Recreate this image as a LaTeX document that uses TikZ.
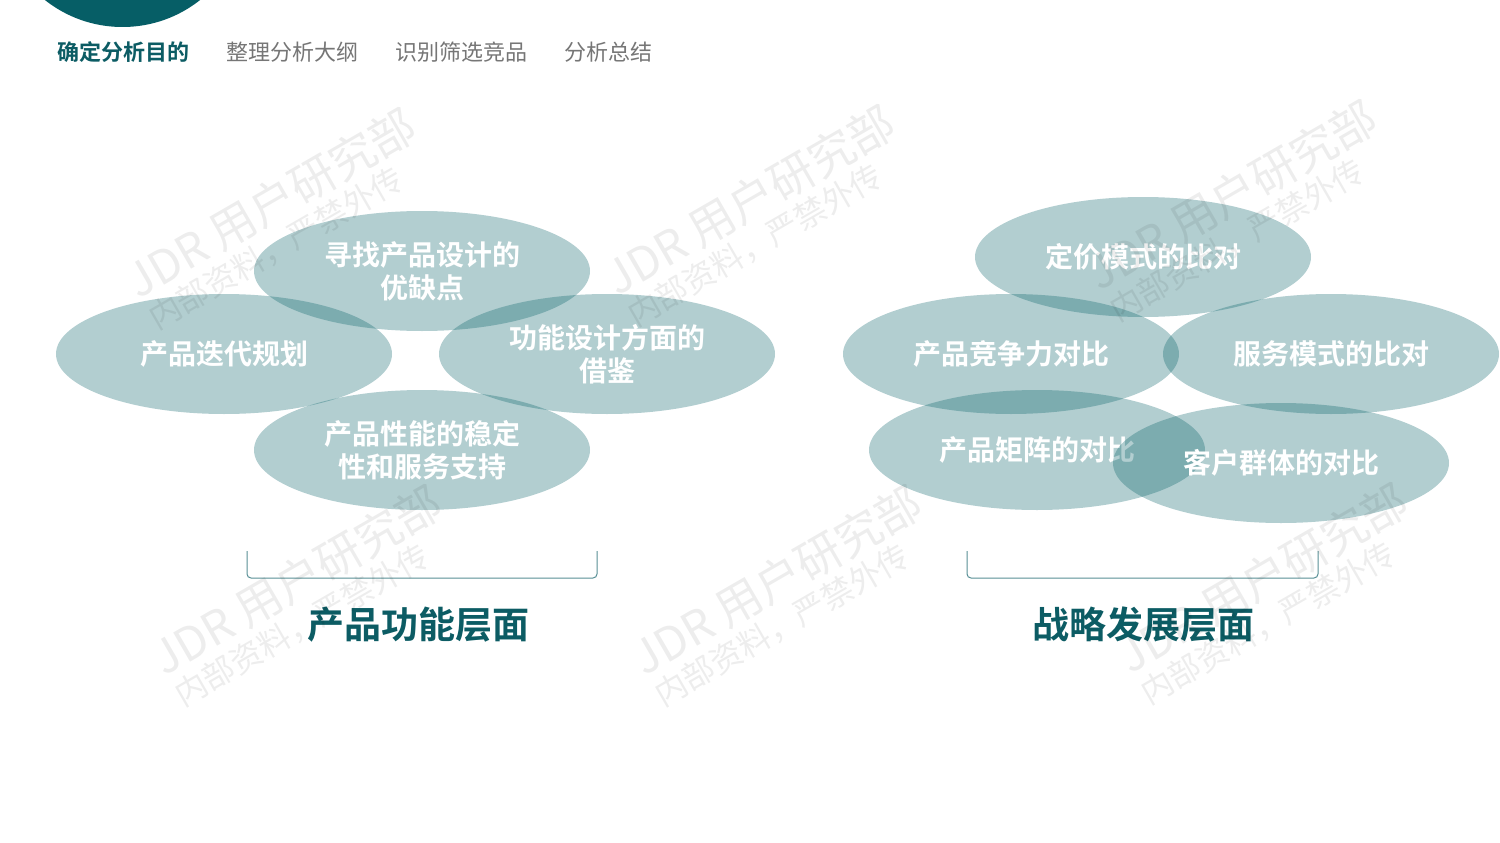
\documentclass[tikz,border=0pt]{standalone}
\usepackage{fontspec}
\setmainfont{Noto Sans CJK SC}[BoldFont={Noto Sans CJK SC Bold}]
\usetikzlibrary{shapes.geometric}
\definecolor{tealbase}{RGB}{2,95,102}
\definecolor{headteal}{RGB}{6,94,102}
\definecolor{titleteal}{RGB}{12,92,100}
\definecolor{navgray}{RGB}{118,118,118}
\definecolor{brackc}{RGB}{88,144,150}
\tikzset{
  bub/.style={ellipse, minimum width=336pt, minimum height=120pt, inner sep=0pt,
    fill=tealbase, fill opacity=0.3, text opacity=1, text=white,
    font=\bfseries\fontsize{28}{33}\selectfont, align=center},
  navon/.style={anchor=west, inner sep=0pt, text=titleteal, font=\bfseries\fontsize{22}{22}\selectfont},
  navoff/.style={anchor=west, inner sep=0pt, text=navgray, font=\fontsize{22}{22}\selectfont},
  layer/.style={inner sep=0pt, text=titleteal, font=\bfseries\fontsize{37}{37}\selectfont},
  brack/.style={draw=brackc, line width=1pt, rounded corners=4pt},
  wmA/.style={inner sep=0pt, rotate=30, text=black, text opacity=0.07, font=\fontsize{46}{46}\selectfont},
  wmB/.style={inner sep=0pt, rotate=30, text=black, text opacity=0.07, font=\fontsize{32}{32}\selectfont},
}
\newcommand\wmark[3]{%
  \node[wmA] (#1a) at (#2,#3) {JDR 用户研究部};
  \node[wmB] (#1b) at (#2+5,#3+45) {内部资料，严禁外传};}
\begin{document}
\begin{tikzpicture}[x=1pt,y=-1pt]
\useasboundingbox (0,0) rectangle (1500,843);
\fill[white] (0,0) rectangle (1500,843);
% header circle
\begin{scope}
\clip (0,0) rectangle (1500,843);
\fill[headteal] (122.5,-98) circle (125pt);
\end{scope}
% navigation
\node[navon] (n1) at (57,52) {确定分析目的};
\node[navoff] (n2) at (226,52) {整理分析大纲};
\node[navoff] (n3) at (395,52) {识别筛选竞品};
\node[navoff] (n4) at (564,52) {分析总结};
% left group
\node[bub] (l1) at (224,354) {产品迭代规划};
\node[bub] (l2) at (422,271) {寻找产品设计的\\优缺点};
\node[bub] (l3) at (607,354) {功能设计方面的\\借鉴};
\node[bub] (l4) at (422,450) {产品性能的稳定\\性和服务支持};
% right group
\node[bub] (r1) at (1143,257) {定价模式的比对};
\node[bub] (r2) at (1011,354) {产品竞争力对比};
\node[bub] (r3) at (1331,354) {服务模式的比对};
\node[bub] (r4) at (1037,450) {产品矩阵的对比};
\node[bub] (r5) at (1281,463) {客户群体的对比};
% brackets
\coordinate (bl1) at (247,551);
\coordinate (bl2) at (597,551);
\coordinate (br1) at (967,551);
\coordinate (br2) at (1318,551);
\draw[brack] (bl1) |- ([yshift=-27pt]bl2) -- (bl2);
\draw[brack] (br1) |- ([yshift=-27pt]br2) -- (br2);
% titles
\node[layer] (t1) at (418,625) {产品功能层面};
\node[layer] (t2) at (1143,625) {战略发展层面};
% watermarks
\wmark{w1}{271}{203}
\wmark{w2}{750}{200}
\wmark{w3}{1232}{195}
\wmark{w4}{297}{580}
\wmark{w5}{777}{580}
\wmark{w6}{1263}{578}
\end{tikzpicture}
\end{document}
